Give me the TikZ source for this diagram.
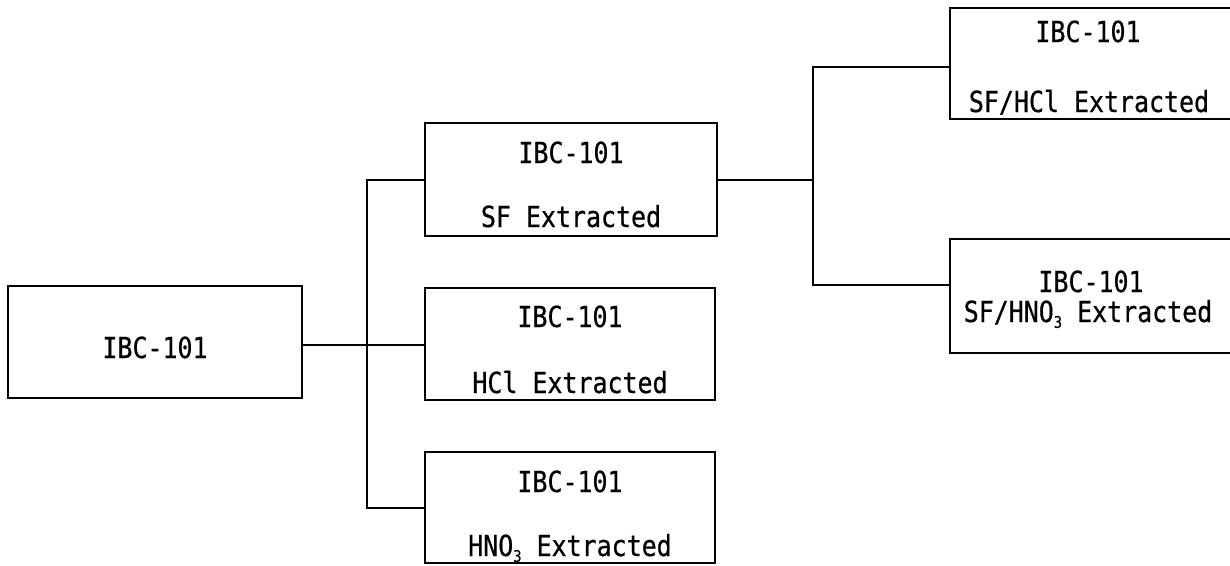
\documentclass[tikz,border=0pt]{standalone}
\usepackage{fontspec}
\setmonofont[FakeStretch=0.86,FakeBold=0.6]{DejaVu Sans Mono}
\newcommand{\sub}[1]{\raisebox{-0.2em}{\fontsize{16}{16}\selectfont #1}}
\begin{document}
\begin{tikzpicture}[x=1pt,y=-1pt,
  box/.style={draw,line width=1.6pt},
  lbl/.style={anchor=base,inner sep=0pt,font=\ttfamily\fontsize{29}{29}\selectfont},
  wire/.style={line width=1.6pt}]
\clip (0,0) rectangle (1230,565);

% boxes
\draw[box] (8,286) rectangle (302,398);
\draw[box] (425,123) rectangle (717,236);
\draw[box] (425,288) rectangle (715,400);
\draw[box] (425,452) rectangle (715,563);
\draw[box] (950,8) rectangle (1245,119);
\draw[box] (950,239) rectangle (1245,353);

% anchor points on the box edges
\coordinate (rootR) at (302,345);
\coordinate (sfL)   at (425,180);
\coordinate (sfR)   at (717,180);
\coordinate (hclL)  at (425,345);
\coordinate (hnoL)  at (425,508);
\coordinate (sfhclL) at (950,67);
\coordinate (sfhnoL) at (950,285);
\coordinate (busA) at (367,345);
\coordinate (busB) at (813,180);

% labels
\node[lbl] (t0)  at (155,358) {IBC-101};
\node[lbl] (t1a) at (571,163) {IBC-101};
\node[lbl] (t1b) at (571,227) {SF Extracted};
\node[lbl] (t2a) at (570,327) {IBC-101};
\node[lbl] (t2b) at (570,393) {HCl Extracted};
\node[lbl] (t3a) at (570,492) {IBC-101};
\node[lbl] (t3b) at (570,556) {HNO\sub{3} Extracted};
\node[lbl] (t4a) at (1088,42) {IBC-101};
\node[lbl] (t4b) at (1089,112) {SF/HCl Extracted};
\node[lbl] (t5a) at (1091,292) {IBC-101};
\node[lbl] (t5b) at (1088,322) {SF/HNO\sub{3} Extracted};

% connectors
\draw[wire] (rootR) -- (busA) -- (hclL);
\draw[wire] (sfL) -| (busA) |- (hnoL);
\draw[wire] (sfR) -- (busB);
\draw[wire] (sfhclL) -| (busB) |- (sfhnoL);
\end{tikzpicture}
\end{document}
